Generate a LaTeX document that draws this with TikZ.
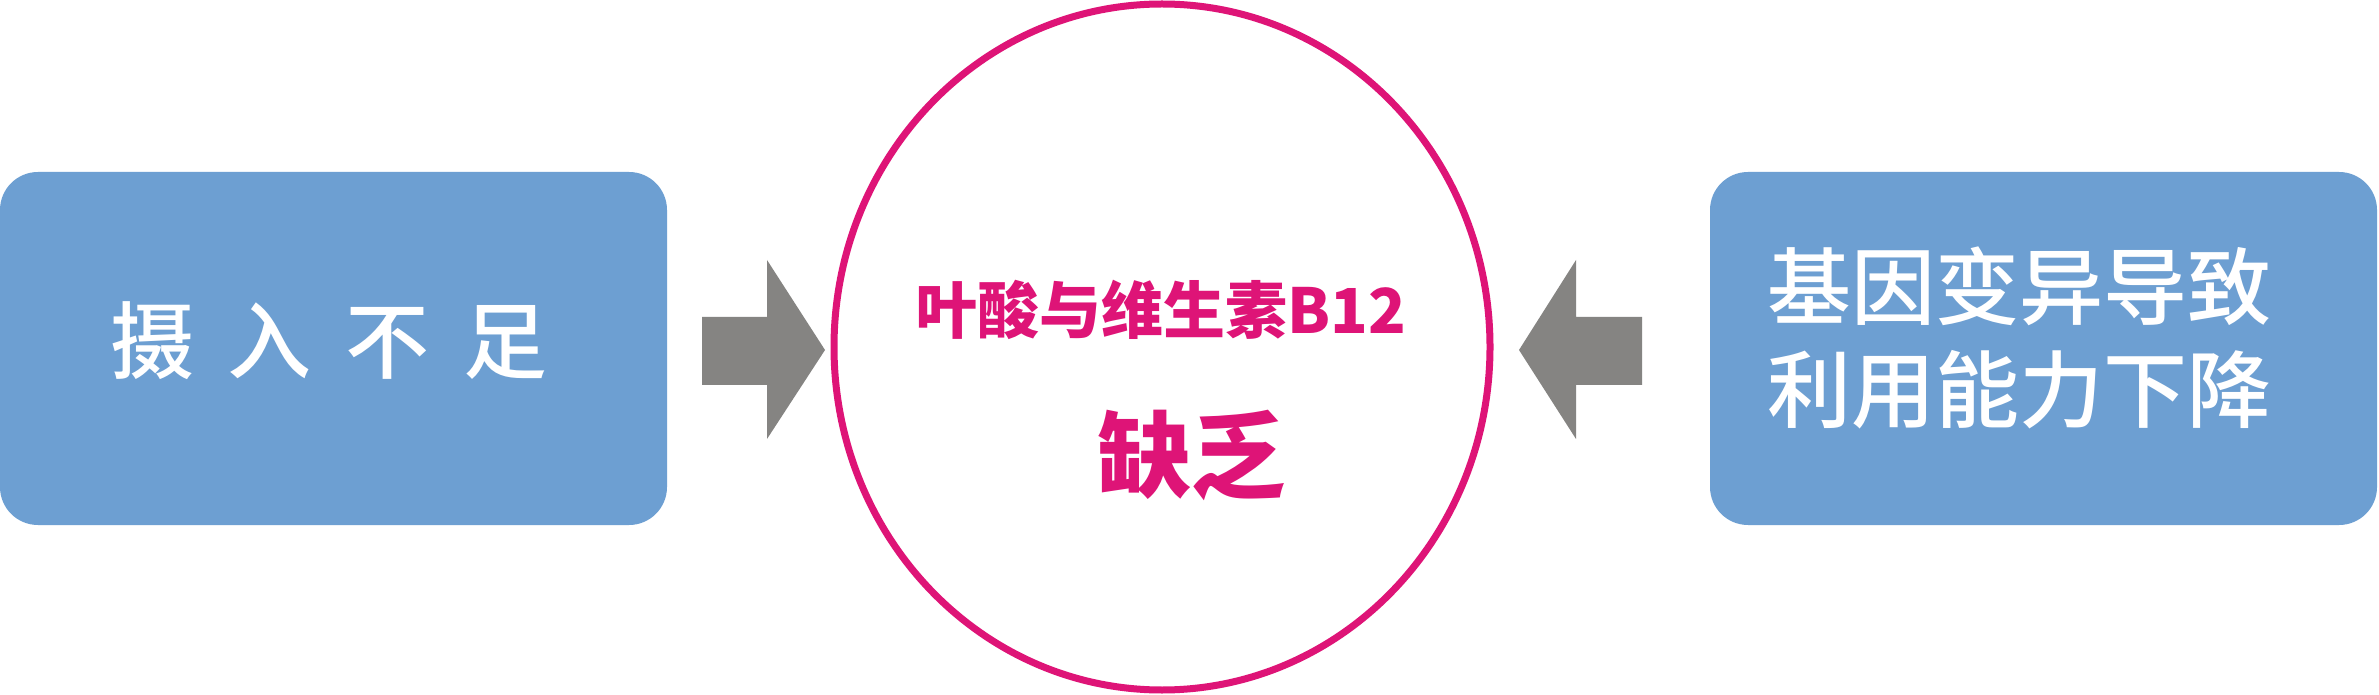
\documentclass[tikz,border=0pt]{standalone}
\usepackage{fontspec}
\usetikzlibrary{shapes.geometric}
\newfontfamily\cjk{Noto Sans CJK SC}
\newfontfamily\cjkmed{Noto Sans CJK SC Medium}
\definecolor{boxblue}{HTML}{6D9FD2}
\definecolor{arrowgray}{HTML}{858482}
\definecolor{magenta}{HTML}{DE1477}
\tikzset{
  causebox/.style={fill=boxblue, rounded corners=38pt, minimum width=667pt, minimum height=353pt, inner sep=0pt},
  whitetext/.style={text=white, inner sep=0pt, font=\cjkmed\fontsize{84}{103}\selectfont, align=center},
  centertext/.style={text=magenta, inner sep=0pt},
  blockarrow/.style={fill=arrowgray},
  core/.style={draw=magenta, line width=7pt, ellipse, minimum width=656pt, minimum height=686pt, inner sep=0pt}
}
\begin{document}
\begin{tikzpicture}[x=1pt,y=1pt]
\useasboundingbox (0,0) rectangle (2379,694);
\fill[white] (0,0) rectangle (2379,694);
% boxes
\node[causebox] (left) at (333.5,345.5) {};
\node[causebox] (right) at (2043.5,345.5) {};
\node[whitetext] (lefttext) at (329,353) {摄\hspace{34pt}入\hspace{34pt}不\hspace{34pt}足};
\node[whitetext] (righttext) at (2019,356) {基因变异导致\\利用能力下降};
% central ellipse
\node[core] (c) at (1162,347) {};
\node[centertext, font=\cjk\bfseries\fontsize{62}{70}\selectfont] (t1) at (1161,384) {叶酸与维生素B12};
\node[centertext, font=\cjk\bfseries\fontsize{94}{100}\selectfont] (t2) at (1191,239) {缺乏};
% block arrows
\fill[blockarrow] (702,309) -- (767,309) -- (767,255) -- (825,344) -- (767,434) -- (767,377) -- (702,377) -- cycle;
\fill[blockarrow] (1642,309) -- (1576,309) -- (1576,255) -- (1519,344) -- (1576,434) -- (1576,377) -- (1642,377) -- cycle;
\end{tikzpicture}
\end{document}
